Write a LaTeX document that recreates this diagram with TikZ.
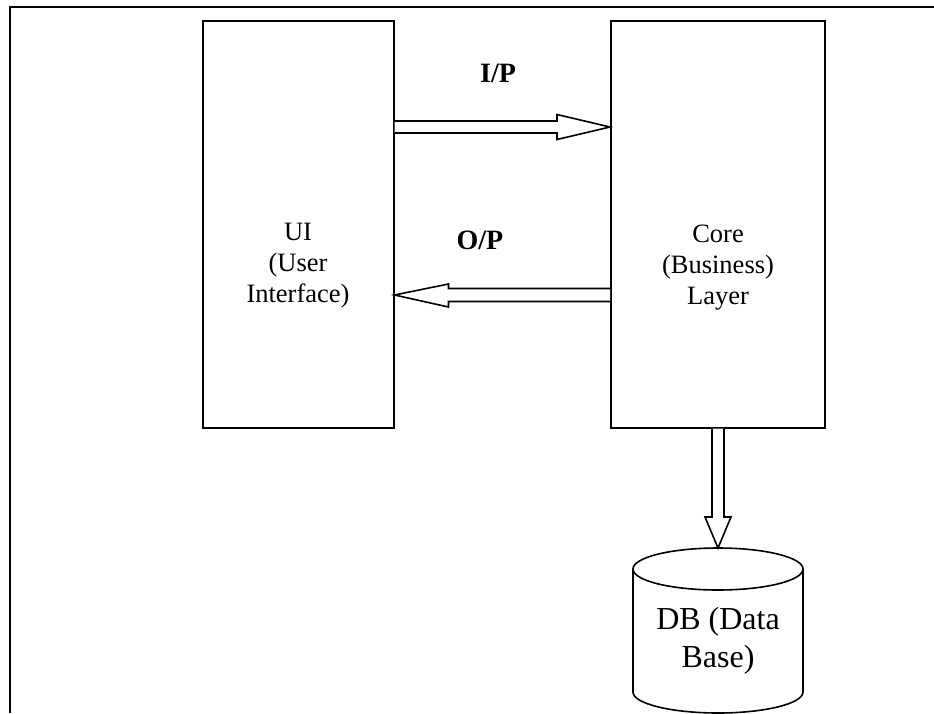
\documentclass[tikz,border=0pt]{standalone}
\usepackage{fontspec}
\setmainfont{Liberation Serif}
\usetikzlibrary{calc}
\tikzset{
  layerbox/.style={draw, line width=2pt, minimum width=191pt, minimum height=407pt, inner sep=0pt},
  blockarrow/.style={draw, line width=1.6pt, line join=miter, fill=white},
  boxtext/.style={align=center, font=\fontsize{26.5}{31}\selectfont},
  arrowlabel/.style={font=\fontsize{28}{30}\selectfont\bfseries}
}
\begin{document}
\begin{tikzpicture}[x=1pt,y=-1pt]
\useasboundingbox (0,0) rectangle (934,713);
\draw[line width=2pt] (10,713) -- (10,7) -- (934,7);
\node[layerbox] (ui) at (298,224) {};
\node[layerbox, minimum width=214pt] (core) at (718,224) {};
\node[boxtext] (uitext) at (298,266) {UI\\(User\\Interface)};
\node[boxtext] (coretext) at (718,268) {Core\\(Business)\\Layer};
\node[arrowlabel] (ip) at (498,73) {I/P};
\node[arrowlabel] (op) at (480,240) {O/P};
% input arrow
\coordinate (ipA) at (ui.east |- 0,127);
\coordinate (ipB) at (core.west |- 0,127);
\draw[blockarrow] ($(ipA)+(0,-6)$) -- ($(ipB)+(-53,-6)$) -- ($(ipB)+(-53,-12.5)$) -- (ipB)
  -- ($(ipB)+(-53,12.5)$) -- ($(ipB)+(-53,6)$) -- ($(ipA)+(0,6)$);
% output arrow
\coordinate (opA) at (core.west |- 0,295);
\coordinate (opB) at (ui.east |- 0,295);
\draw[blockarrow] ($(opA)+(0,-6.5)$) -- ($(opB)+(54,-6.5)$) -- ($(opB)+(54,-11)$) -- (opB)
  -- ($(opB)+(54,12)$) -- ($(opB)+(54,6.5)$) -- ($(opA)+(0,6.5)$);
% database
\node[align=center, font=\fontsize{32}{38}\selectfont] (db) at (718,641) {DB (Data\\Base)};
\coordinate (dbtop) at (718,548);
\draw[line width=1.6pt] (718,569) ellipse [x radius=85, y radius=21];
\draw[line width=1.6pt] (633,569) -- (633,692) arc [start angle=180, end angle=0, x radius=85, y radius=21] -- (803,569);
% arrow down to database
\coordinate (dbA) at (core.south);
\draw[blockarrow] ($(dbA)+(-6,0)$) -- ($(dbtop)+(-6,-31)$) -- ($(dbtop)+(-13,-31)$) -- (dbtop)
  -- ($(dbtop)+(13,-31)$) -- ($(dbtop)+(6,-31)$) -- ($(dbA)+(6,0)$);
\end{tikzpicture}
\end{document}
